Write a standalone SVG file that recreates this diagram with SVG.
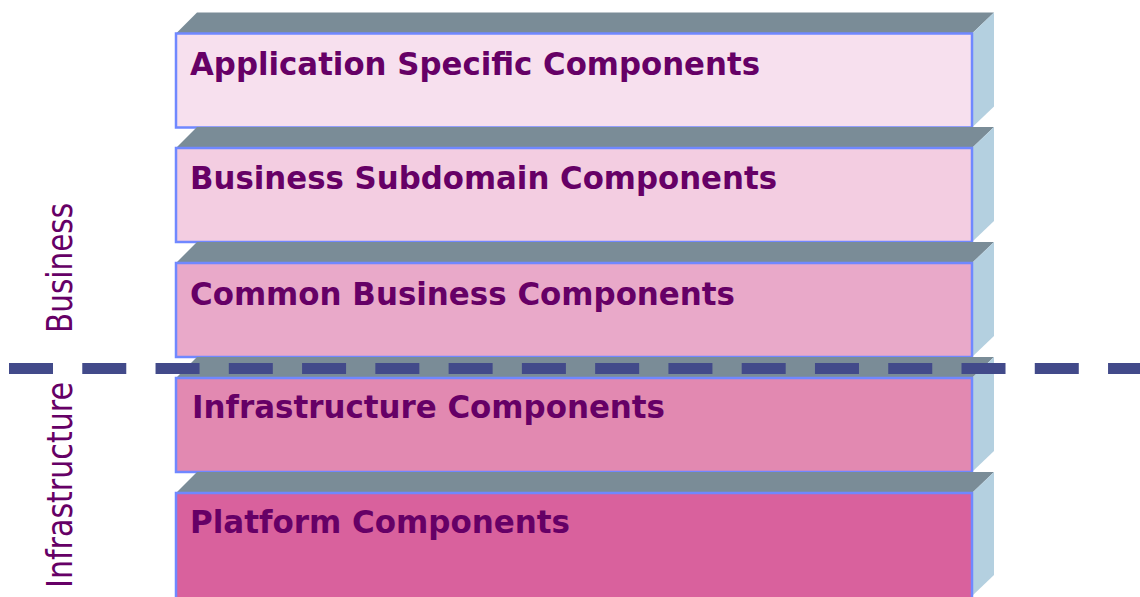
<svg xmlns="http://www.w3.org/2000/svg" width="1140" height="597" viewBox="0 0 1140 597">
<style>
.top{fill:#7A8C97}
.side{fill:#B4D0E0}
.front{stroke:#7088FF;stroke-width:2.5}
.lbl{font-family:"DejaVu Sans",Verdana,sans-serif;font-weight:bold;font-size:32px;fill:#660066}
.axis{font-family:"DejaVu Sans",Tahoma,sans-serif;font-size:35px;fill:#660066}
</style>
<rect width="1140" height="597" fill="#FFFFFF"/>
<g id="app">
<polygon class="top" points="176,33.5 197,12.5 994,12.5 972,33.5"/>
<polygon class="side" points="972,33.5 994,12.5 994,106.5 972,127.5"/>
<rect class="front" x="176" y="33.5" width="796" height="94" fill="#F7E0EE"/>
<text class="lbl" x="190" y="75" textLength="570" lengthAdjust="spacingAndGlyphs">Application Specific Components</text>
</g>
<g id="subdomain">
<polygon class="top" points="176,148 197,127 994,127 972,148"/>
<polygon class="side" points="972,148 994,127 994,221 972,242"/>
<rect class="front" x="176" y="148" width="796" height="94" fill="#F3CDE1"/>
<text class="lbl" x="190" y="189" textLength="587" lengthAdjust="spacingAndGlyphs">Business Subdomain Components</text>
</g>
<g id="common">
<polygon class="top" points="176,263 197,242 994,242 972,263"/>
<polygon class="side" points="972,263 994,242 994,336 972,357"/>
<rect class="front" x="176" y="263" width="796" height="94" fill="#E9A9C9"/>
<text class="lbl" x="190" y="305" textLength="545" lengthAdjust="spacingAndGlyphs">Common Business Components</text>
</g>
<g id="infra">
<polygon class="top" points="176,378 197,357 994,357 972,378"/>
<polygon class="side" points="972,378 994,357 994,451 972,472"/>
<rect class="front" x="176" y="378" width="796" height="94" fill="#E289B1"/>
<text class="lbl" x="192" y="418" textLength="473" lengthAdjust="spacingAndGlyphs">Infrastructure Components</text>
</g>
<g id="platform">
<polygon class="top" points="176,493 197,472 994,472 972,493"/>
<polygon class="side" points="972,493 994,472 994,575 972,596"/>
<rect class="front" x="176" y="493" width="796" height="110" fill="#D9619D"/>
<text class="lbl" x="190" y="533" textLength="380" lengthAdjust="spacingAndGlyphs">Platform Components</text>
</g>
<g id="labels">
<text class="axis" transform="translate(72,333) rotate(-90)" textLength="130" lengthAdjust="spacingAndGlyphs">Business</text>
<text class="axis" transform="translate(72,588) rotate(-90)" textLength="206" lengthAdjust="spacingAndGlyphs">Infrastructure</text>
</g>
<g id="connectors">
<line x1="9" y1="368.5" x2="1140" y2="368.5" stroke="#424A8A" stroke-width="11" stroke-dasharray="44 29.27"/>
</g>
</svg>
